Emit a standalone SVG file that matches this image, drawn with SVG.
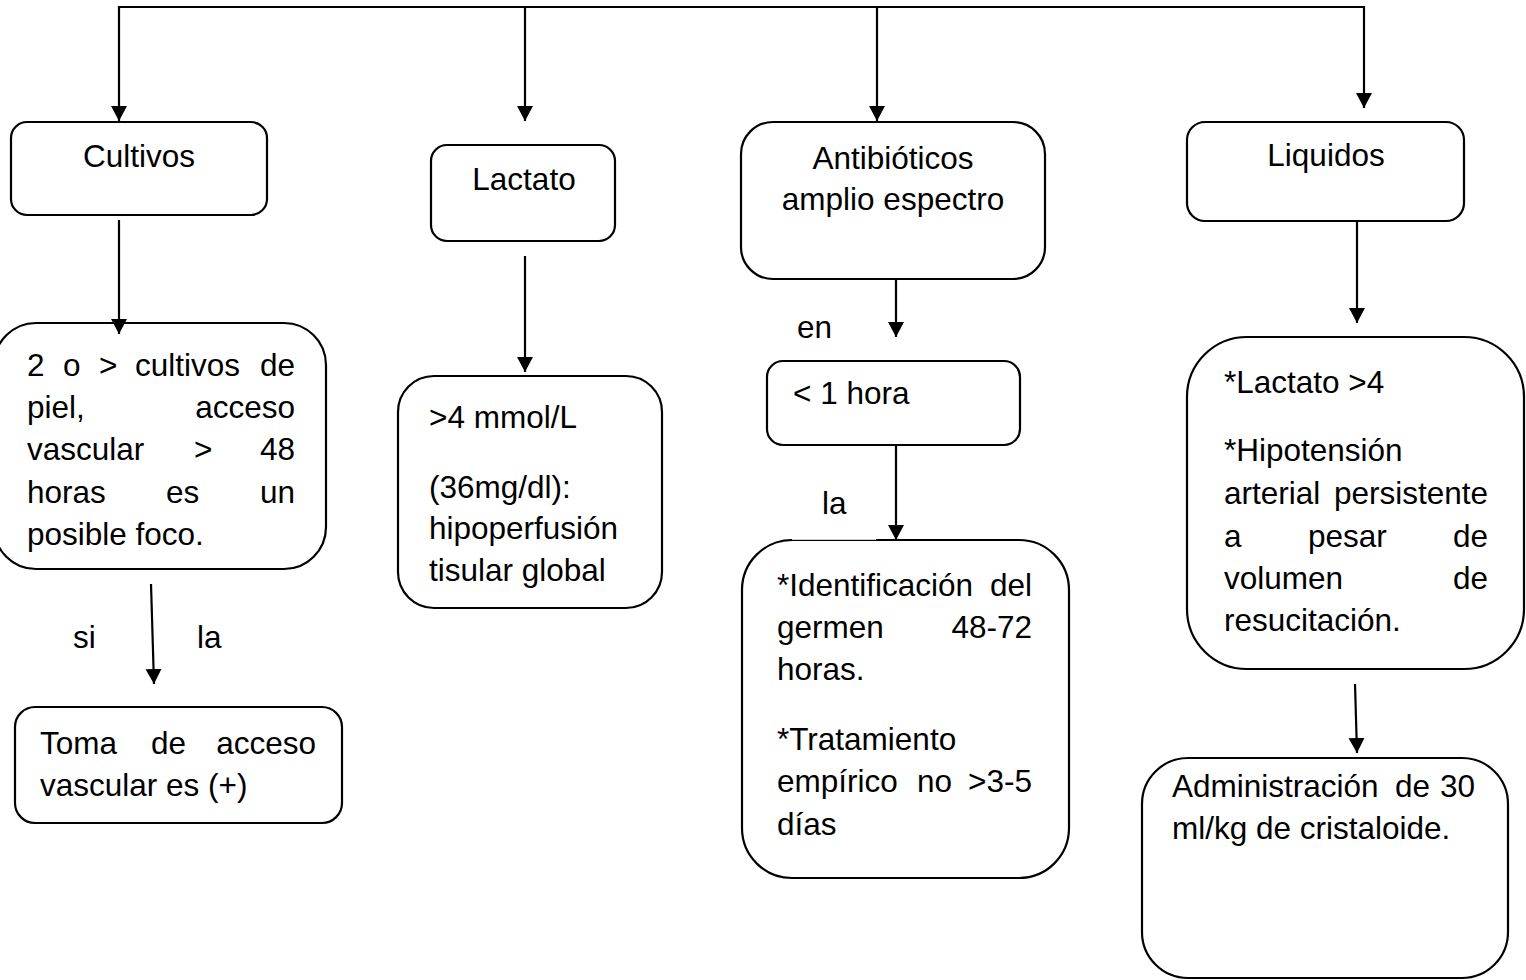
<svg xmlns="http://www.w3.org/2000/svg" width="1526" height="980" viewBox="0 0 1526 980">
  <style>
    .box { fill: #ffffff; stroke: #000000; stroke-width: 2.2; }
    .wire { fill: none; stroke: #000000; stroke-width: 2.2; }
    .arrow { fill: none; stroke: #000000; stroke-width: 2.2; marker-end: url(#head); }
    text { font-family: "Liberation Sans", Arial, sans-serif; font-size: 31.5px; fill: #000000; }
    .c { text-anchor: middle; }
    .e { text-anchor: end; }
  </style>
  <defs>
    <marker id="head" markerUnits="userSpaceOnUse" markerWidth="17" markerHeight="17" refX="15" refY="8" orient="auto">
      <path d="M0,0 L15,8 L0,16 z" fill="#000000"/>
    </marker>
  </defs>

  <rect width="1526" height="980" fill="#ffffff"/>

  <!-- first row -->
  <g id="cultivos">
    <rect class="box" x="11" y="122" width="256" height="93" rx="16"/>
    <text class="c" x="139" y="167">Cultivos</text>
  </g>
  <g id="lactato">
    <rect class="box" x="431" y="145" width="184" height="96" rx="16"/>
    <text class="c" x="524" y="190">Lactato</text>
  </g>
  <g id="antibioticos">
    <rect class="box" x="741" y="122" width="304" height="157" rx="32"/>
    <text class="c" x="893" y="169">Antibióticos</text>
    <text class="c" x="893" y="210">amplio espectro</text>
  </g>
  <g id="liquidos">
    <rect class="box" x="1187" y="122" width="277" height="99" rx="18"/>
    <text class="c" x="1326" y="166">Liquidos</text>
  </g>

  <!-- Cultivos branch -->
  <g id="foco">
    <rect class="box" x="-6" y="323" width="332" height="246" rx="42"/>
    <text x="27" y="376">2</text>
    <text x="63" y="376">o</text>
    <text x="99" y="376">&gt;</text>
    <text x="135" y="376">cultivos</text>
    <text class="e" x="295" y="376">de</text>
    <text x="27" y="418">piel,</text>
    <text class="e" x="295" y="418">acceso</text>
    <text x="27" y="460">vascular</text>
    <text x="194" y="460">&gt;</text>
    <text class="e" x="295" y="460">48</text>
    <text x="27" y="503">horas</text>
    <text x="166" y="503">es</text>
    <text class="e" x="295" y="503">un</text>
    <text x="27" y="545">posible foco.</text>
  </g>
  <g id="toma">
    <rect class="box" x="15" y="707" width="327" height="116" rx="20"/>
    <text x="40" y="754">Toma</text>
    <text x="151" y="754">de</text>
    <text class="e" x="316" y="754">acceso</text>
    <text x="40" y="796">vascular es (+)</text>
  </g>

  <!-- Lactato branch -->
  <g id="mmol">
    <rect class="box" x="398" y="376" width="264" height="232" rx="36"/>
    <text x="429" y="428">&gt;4 mmol/L</text>
    <text x="429" y="498">(36mg/dl):</text>
    <text x="429" y="539">hipoperfusión</text>
    <text x="429" y="581">tisular global</text>
  </g>

  <!-- Antibióticos branch -->
  <g id="hora">
    <rect class="box" x="767" y="361" width="253" height="84" rx="16"/>
    <text x="793" y="404">&lt; 1 hora</text>
  </g>
  <g id="germen">
    <rect class="box" x="742" y="540" width="327" height="338" rx="50"/>
    <line x1="792" y1="539.3" x2="876" y2="539.3" stroke="#ffffff" stroke-width="1"/>
    <text x="777" y="596">*Identificación</text>
    <text class="e" x="1032" y="596">del</text>
    <text x="777" y="638">germen</text>
    <text class="e" x="1032" y="638">48-72</text>
    <text x="777" y="680">horas.</text>
    <text x="777" y="750">*Tratamiento</text>
    <text x="777" y="792">empírico</text>
    <text x="917" y="792">no</text>
    <text class="e" x="1032" y="792">&gt;3-5</text>
    <text x="777" y="835">días</text>
  </g>

  <!-- Liquidos branch -->
  <g id="criterios">
    <rect class="box" x="1187" y="337" width="337" height="332" rx="60"/>
    <text x="1224" y="393">*Lactato &gt;4</text>
    <text x="1224" y="461">*Hipotensión</text>
    <text x="1224" y="504">arterial</text>
    <text class="e" x="1488" y="504">persistente</text>
    <text x="1224" y="547">a</text>
    <text x="1308" y="547">pesar</text>
    <text class="e" x="1488" y="547">de</text>
    <text x="1224" y="589">volumen</text>
    <text class="e" x="1488" y="589">de</text>
    <text x="1224" y="631">resucitación.</text>
  </g>
  <g id="cristaloide">
    <rect class="box" x="1142" y="758" width="366" height="220" rx="46"/>
    <text x="1172" y="797">Administración</text>
    <text x="1395" y="797">de</text>
    <text class="e" x="1475" y="797">30</text>
    <text x="1172" y="839">ml/kg de cristaloide.</text>
  </g>

  <!-- connectors, drawn over the box outlines so the heads stay visible -->
  <g id="connectors">
    <polyline class="wire" points="119,7 1364,7"/>
    <line class="arrow" x1="119" y1="6" x2="119" y2="121"/>
    <line class="arrow" x1="525" y1="7" x2="525" y2="121"/>
    <line class="arrow" x1="877" y1="7" x2="877" y2="121"/>
    <line class="arrow" x1="1364" y1="6" x2="1364" y2="108"/>
    <line class="arrow" x1="119" y1="220" x2="119" y2="334"/>
    <line class="arrow" x1="525" y1="256" x2="525" y2="372"/>
    <line class="arrow" x1="896" y1="280" x2="896" y2="337"/>
    <line class="arrow" x1="896" y1="445" x2="896" y2="540"/>
    <line class="arrow" x1="1357" y1="222" x2="1357" y2="323"/>
    <line class="arrow" x1="151" y1="584" x2="154" y2="684"/>
    <line class="arrow" x1="1355" y1="684" x2="1357" y2="753"/>
  </g>

  <!-- connector labels -->
  <g id="labels">
    <text x="73" y="648">si</text>
    <text x="197" y="648">la</text>
    <text x="797" y="338">en</text>
    <text x="822" y="514">la</text>
  </g>
</svg>
